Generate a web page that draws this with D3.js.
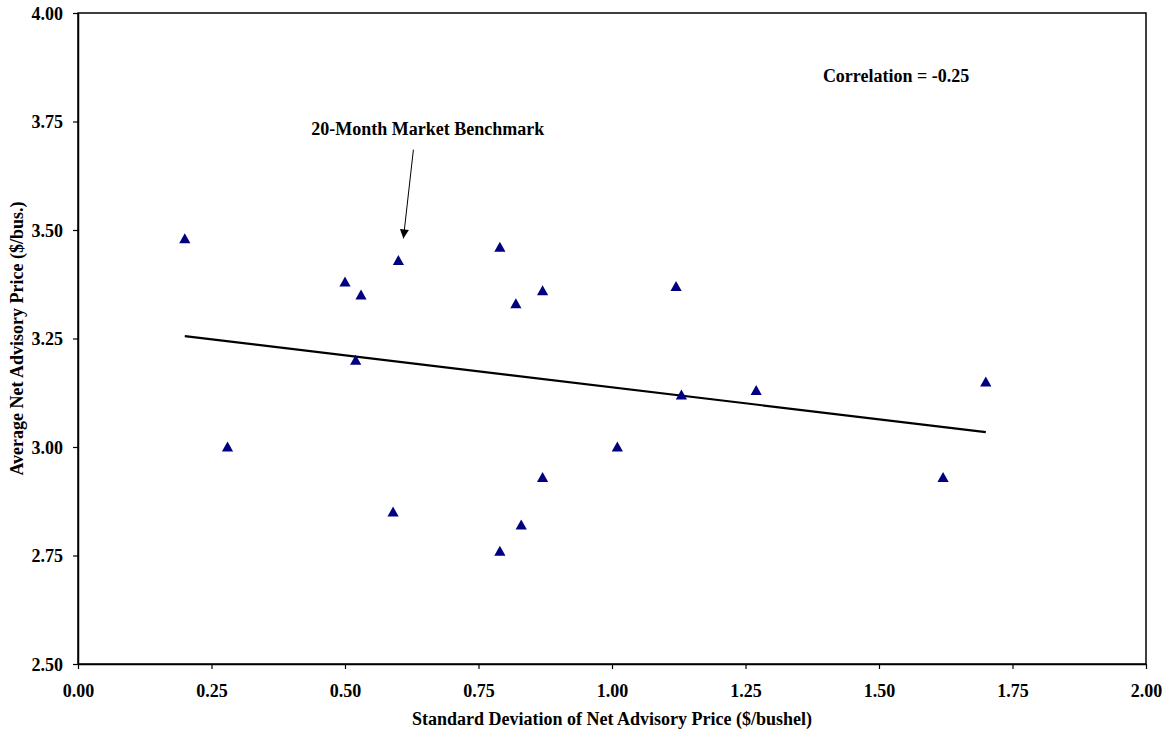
<!DOCTYPE html>
<html>
<head>
<meta charset="utf-8">
<script src="https://cdn.jsdelivr.net/npm/d3@7"></script>
<style>
  body { margin: 0; background: #fff; }
  svg text { font-family: "Liberation Serif", "Times New Roman", serif; font-weight: bold; fill: #000; }
</style>
</head>
<body>
<svg id="chart" width="1169" height="736"></svg>
<script>
var width = 1169;
var height = 736;
var margin = {top: 13, right: 23, bottom: 72, left: 78};
var w = width - margin.left - margin.right;
var h = height - margin.top - margin.bottom;

// advisory programs: standard deviation vs average net price
var stdDev = [0.20, 0.28, 0.50, 0.53, 0.52, 0.60, 0.59, 0.79, 0.82, 0.87, 0.79, 0.83, 0.87,
    1.01, 1.12, 1.13, 1.27, 1.62, 1.70];
var avgPrice = [3.48, 3.00, 3.38, 3.35, 3.20, 3.43, 2.85, 3.46, 3.33, 3.36, 2.76, 2.82, 2.93,
    3.00, 3.37, 3.12, 3.13, 2.93, 3.15];

var xTicks = [0, 0.25, 0.5, 0.75, 1.0, 1.25, 1.5, 1.75, 2.0];
var yTicks = [2.5, 2.75, 3.0, 3.25, 3.5, 3.75, 4.0];

var benchmark = {x: 0.60, y: 3.43, label: "20-Month Market Benchmark"};
var corrLabel = "Correlation = -0.25";

var data = stdDev.map(function(d, i) { return {x: d, y: avgPrice[i]}; });

var svg = d3.select("#chart");
var g = svg.append("g")
    .attr("transform", "translate(" + margin.left + "," + margin.top + ")");

var x = d3.scaleLinear().domain([0, 2]).range([0, w]);
var y = d3.scaleLinear().domain([2.5, 4]).range([h, 0]);

// plot frame
g.append("rect")
    .attr("width", w).attr("height", h)
    .attr("fill", "none").attr("stroke", "#000").attr("stroke-width", 1.5);

var xAxis = d3.axisBottom(x).tickValues(xTicks).tickSize(5).tickSizeOuter(0)
    .tickFormat(d3.format(".2f"));
var yAxis = d3.axisLeft(y).tickValues(yTicks).tickSize(5).tickSizeOuter(0)
    .tickFormat(d3.format(".2f"));

var gx = g.append("g").attr("transform", "translate(0," + h + ")").call(xAxis);
var gy = g.append("g").call(yAxis);

[gx, gy].forEach(function(a) {
    a.select(".domain").attr("stroke", "#000").attr("stroke-width", 1.5);
    a.selectAll(".tick line").attr("stroke", "#000").attr("stroke-width", 1.2);
    a.selectAll("text").style("font-size", "18px").style("font-family", "Liberation Serif").style("font-weight", "bold");
});
gx.selectAll("text").attr("dy", null).attr("y", 33);
gy.selectAll("text").attr("x", -15).attr("dy", "0.35em");

// axis titles
svg.append("text")
    .attr("x", margin.left + w / 2)
    .attr("y", 725)
    .attr("text-anchor", "middle")
    .style("font-size", "18px")
    .text("Standard Deviation of Net Advisory Price ($/bushel)");

svg.append("text")
    .attr("transform", "translate(23," + (margin.top + h / 2) + ") rotate(-90)")
    .attr("text-anchor", "middle")
    .style("font-size", "18px")
    .text("Average Net Advisory Price ($/bus.)");

// linear trend line
var mx = d3.mean(stdDev), my = d3.mean(avgPrice);
var sxy = d3.sum(data, function(d) { return (d.x - mx) * (d.y - my); });
var sxx = d3.sum(data, function(d) { return (d.x - mx) * (d.x - mx); });
var slope = sxy / sxx;
var icpt = my - slope * mx;
var xr = d3.extent(stdDev);

g.append("line")
    .attr("x1", x(xr[0])).attr("y1", y(icpt + slope * xr[0]))
    .attr("x2", x(xr[1])).attr("y2", y(icpt + slope * xr[1]))
    .attr("stroke", "#000").attr("stroke-width", 2.2);

// triangle markers
g.selectAll("path.pt")
    .data(data)
    .enter().append("path")
    .attr("class", "pt")
    .attr("d", "M0,-5.5L5.6,4.5L-5.6,4.5Z")
    .attr("transform", function(d) { return "translate(" + x(d.x) + "," + y(d.y) + ")"; })
    .attr("fill", "#000080");

// annotation
svg.append("defs").append("marker")
    .attr("id", "arrow")
    .attr("viewBox", "0 0 10 10")
    .attr("refX", 10).attr("refY", 5)
    .attr("markerWidth", 10).attr("markerHeight", 9)
    .attr("markerUnits", "userSpaceOnUse")
    .attr("orient", "auto")
    .append("path").attr("d", "M0,0L10,5L0,10Z").attr("fill", "#000");

g.append("text")
    .attr("x", x(0.655))
    .attr("y", y(3.72))
    .attr("text-anchor", "middle")
    .style("font-size", "18px")
    .text(benchmark.label);

g.append("line")
    .attr("x1", x(benchmark.x) + 15).attr("y1", y(3.685))
    .attr("x2", x(benchmark.x) + 5).attr("y2", y(benchmark.y) - 22)
    .attr("stroke", "#000").attr("stroke-width", 1)
    .attr("marker-end", "url(#arrow)");

g.append("text")
    .attr("x", x(1.532))
    .attr("y", y(3.84))
    .attr("text-anchor", "middle")
    .style("font-size", "18px")
    .text(corrLabel);
</script>
</body>
</html>
